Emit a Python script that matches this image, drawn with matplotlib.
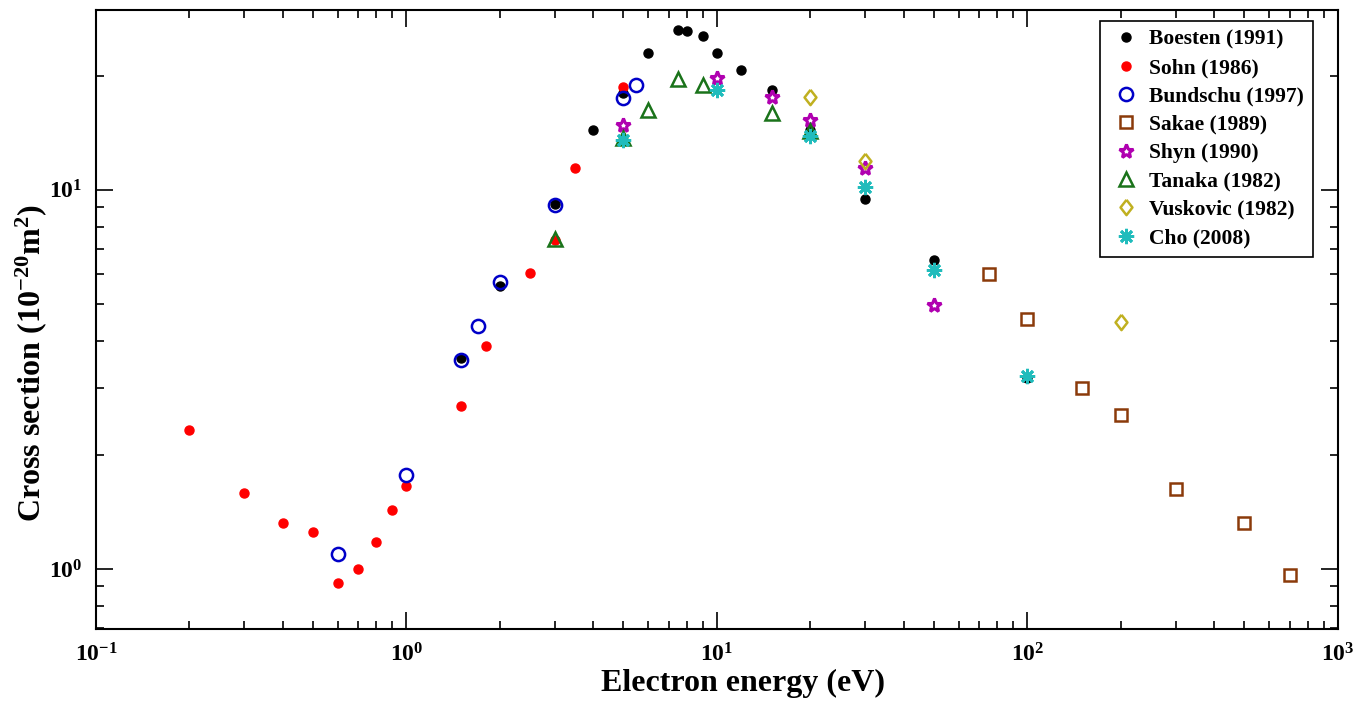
#!/usr/bin/env python
# coding: utf-8
import matplotlib
matplotlib.use("Agg")
import matplotlib.pyplot as plt
from matplotlib.ticker import FixedLocator, FixedFormatter, NullFormatter, LogLocator
import numpy as np

# data (energy in eV, cross section in 1e-20 m^2)
boesten_x = [1.5, 2.0, 3.0, 4.0, 5.0, 6.0, 7.5, 8.0, 9.0, 10, 12, 15, 20, 30, 50, 100]
boesten_y = [3.6, 5.58, 9.18, 14.4, 18.0, 23.0, 26.4, 26.3, 25.5, 23.0, 20.7, 18.3, 14.4, 9.47, 6.54, 3.19]

sohn_x = [0.2, 0.3, 0.4, 0.5, 0.6, 0.7, 0.8, 0.9, 1.0, 1.5, 1.8, 2.5, 3.0, 3.5, 5.0]
sohn_y = [2.33, 1.59, 1.32, 1.25, 0.918, 1.0, 1.18, 1.43, 1.655, 2.69, 3.88, 6.04, 7.38, 11.4, 18.7]

bundschu_x = [0.6, 1.0, 1.5, 1.7, 2.0, 3.0, 5.0, 5.5]
bundschu_y = [1.095, 1.77, 3.56, 4.38, 5.72, 9.1, 17.5, 18.9]

sakae_x = [75, 100, 150, 200, 300, 500, 700]
sakae_y = [6.0, 4.57, 3.0, 2.55, 1.63, 1.32, 0.964]

shyn_x = [5, 10, 15, 20, 30, 50]
shyn_y = [14.8, 19.7, 17.6, 15.3, 11.4, 4.97]

tanaka_x = [3, 5, 6, 7.5, 9, 15, 20]
tanaka_y = [7.4, 13.7, 16.2, 19.6, 18.9, 15.9, 14.3]

vuskovic_x = [20, 30, 200]
vuskovic_y = [17.6, 11.9, 4.48]

cho_x = [5, 10, 20, 30, 50, 100]
cho_y = [13.5, 18.3, 13.9, 10.2, 6.15, 3.23]

xticks = [0.1, 1, 10, 100, 1000]
xtick_labels = [r'$\mathbf{10^{-1}}$', r'$\mathbf{10^{0}}$', r'$\mathbf{10^{1}}$',
                r'$\mathbf{10^{2}}$', r'$\mathbf{10^{3}}$']
yticks = [1, 10]
ytick_labels = [r'$\mathbf{10^{0}}$', r'$\mathbf{10^{1}}$']


def main():
	plt.rcParams['font.family'] = ['Liberation Serif', 'DejaVu Serif']
	plt.rcParams['font.weight'] = 'bold'
	plt.rcParams['mathtext.fontset'] = 'custom'
	plt.rcParams['mathtext.rm'] = 'Liberation Serif'
	plt.rcParams['mathtext.bf'] = 'Liberation Serif:bold'
	plt.rcParams['mathtext.it'] = 'Liberation Serif:italic:bold'

	fig = plt.figure(figsize=(13.61, 7.01), dpi=100)
	ax = fig.add_axes([0.0705, 0.1027, 0.9125, 0.883])

	diamond = [(0, 1), (0.78, 0), (0, -1), (-0.78, 0), (0, 1)]

	ax.plot(boesten_x, boesten_y, 'o', color='black', ms=6.5, label='Boesten (1991)')
	ax.plot(sohn_x, sohn_y, 'o', color='#ff0000', ms=6.5, label='Sohn (1986)')
	ax.plot(bundschu_x, bundschu_y, 'o', mfc='none', mec='#0000c8', mew=1.8, ms=9.5,
		label='Bundschu (1997)')
	ax.plot(sakae_x, sakae_y, 's', mfc='none', mec='#8b3a0a', mew=1.8, ms=8,
		label='Sakae (1989)')
	ax.plot(shyn_x, shyn_y, '*', mfc='white', mec='#b000b0', mew=2.2, ms=10,
		label='Shyn (1990)')
	ax.plot(tanaka_x, tanaka_y, '^', mfc='none', mec='#1a731a', mew=1.8, ms=10,
		label='Tanaka (1982)')
	ax.plot(vuskovic_x, vuskovic_y, marker=diamond, ls='none', mfc='none', mec='#c0b020',
		mew=1.8, ms=11, label='Vuskovic (1982)')
	ax.plot(cho_x, cho_y, marker=(8, 2, 0), ls='none', color='#20bcbc', mew=2.0, ms=11,
		label='Cho (2008)')

	ax.set_xscale('log')
	ax.set_yscale('log')
	ax.set_xlim(0.1, 1000)
	ax.set_ylim(0.695, 29.8)

	ax.xaxis.set_major_locator(FixedLocator(xticks))
	ax.xaxis.set_major_formatter(FixedFormatter(xtick_labels))
	ax.yaxis.set_major_locator(FixedLocator(yticks))
	ax.yaxis.set_major_formatter(FixedFormatter(ytick_labels))
	ax.xaxis.set_minor_locator(LogLocator(base=10, subs=np.arange(2, 10)))
	ax.yaxis.set_minor_locator(LogLocator(base=10, subs=np.arange(2, 10)))
	ax.xaxis.set_minor_formatter(NullFormatter())
	ax.yaxis.set_minor_formatter(NullFormatter())

	ax.tick_params(which='both', direction='in', top=True, right=True, width=1.2)
	ax.tick_params(which='major', length=12, labelsize=17)
	ax.tick_params(which='minor', length=6)
	ax.tick_params(axis='x', which='major', pad=10)
	ax.tick_params(axis='y', which='major', pad=10)
	for s in ax.spines.values():
		s.set_linewidth(1.5)

	ax.set_xlabel('Electron energy (eV)', fontsize=23, fontweight='bold', labelpad=0)
	ax.set_ylabel(r'Cross section ($\mathbf{10^{-20}m^2}$)', fontsize=23,
		fontweight='bold')
	ax.xaxis.set_label_coords(0.521, -0.064)
	ax.yaxis.set_label_coords(-0.038, 0.43)

	leg = ax.legend(loc='upper right', bbox_to_anchor=(0.9799, 0.9822), fontsize=15.5,
		frameon=True, fancybox=False, edgecolor='black', framealpha=1, borderpad=0.4,
		labelspacing=0.385, handletextpad=0.3, handlelength=1.6, borderaxespad=0)
	leg.get_frame().set_linewidth(1.2)

	fig.savefig('out.png', dpi=100)


if __name__ == '__main__':
	main()
